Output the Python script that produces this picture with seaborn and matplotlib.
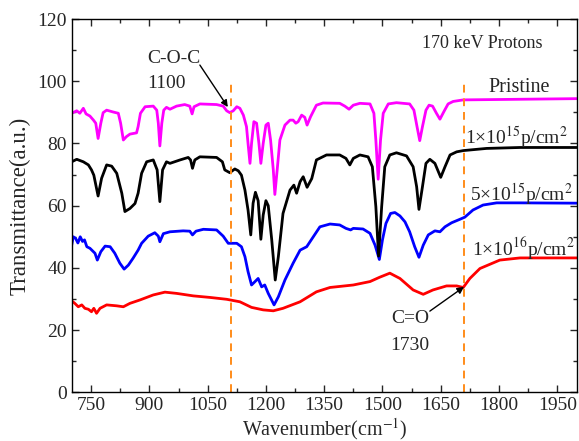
import matplotlib
matplotlib.use("Agg")
import matplotlib.pyplot as plt
from matplotlib.ticker import MultipleLocator
import numpy as np
import pandas as pd
import seaborn as sns

# FTIR transmittance spectra after 170 keV proton irradiation (wavenumber, transmittance)
pristine_wn = [700, 713, 721, 730, 737, 747, 756, 762, 768, 775, 781, 790, 807, 820, 826, 833,
               841, 850, 867, 871, 877, 889, 910, 919, 923, 927, 932, 937, 944, 953, 970, 991,
               1004, 1010, 1015, 1030, 1073, 1090, 1099, 1107, 1116, 1125, 1133, 1142, 1150,
               1154, 1159, 1163, 1169, 1176, 1182, 1187, 1193, 1200, 1206, 1212, 1219, 1223,
               1229, 1236, 1249, 1262, 1270, 1277, 1283, 1292, 1300, 1306, 1315, 1330, 1347,
               1390, 1403, 1414, 1425, 1442, 1468, 1478, 1483, 1489, 1495, 1502, 1515, 1536,
               1570, 1581, 1589, 1596, 1603, 1612, 1620, 1629, 1639, 1648, 1658, 1669, 1682,
               1708, 1854, 2000]
pristine_t = [89.7, 90.5, 89.7, 91.3, 89.5, 88.8, 87.5, 86.5, 81.6, 86.5, 89.9, 90.7, 90.1, 89.7,
              86.5, 81.1, 82.2, 83.0, 83.4, 85.4, 89.7, 91.8, 92.0, 90.7, 86.5, 79.2, 86.5, 90.7,
              91.6, 91.0, 92.0, 92.5, 92.0, 89.5, 91.8, 92.7, 92.5, 92.0, 90.5, 89.9, 90.5, 91.8,
              91.3, 89.1, 85.4, 80.0, 73.6, 80.0, 87.0, 86.5, 80.0, 73.6, 80.0, 85.9, 86.5, 81.1,
              71.5, 63.6, 71.5, 81.1, 85.9, 87.5, 87.5, 86.5, 87.0, 89.1, 88.4, 85.9, 88.6, 92.3,
              93.0, 92.9, 92.0, 91.0, 92.3, 92.9, 92.7, 89.7, 81.1, 68.5, 81.0, 89.7, 92.7, 93.1,
              92.7, 90.7, 85.4, 80.9, 85.4, 90.7, 92.3, 92.0, 89.7, 87.8, 90.2, 92.7, 93.5,
              94.0, 94.2, 94.4]

dose_1e15_wn = [700, 713, 730, 743, 751, 757, 768, 777, 790, 803, 816, 829, 837, 850, 863, 871,
                880, 893, 910, 920, 927, 934, 944, 953, 979, 1000, 1006, 1011, 1017, 1030, 1073,
                1088, 1094, 1107, 1120, 1129, 1137, 1146, 1154, 1161, 1167, 1173, 1180, 1187,
                1193, 1200, 1206, 1215, 1224, 1232, 1244, 1262, 1272, 1279, 1288, 1296, 1306,
                1318, 1330, 1356, 1390, 1406, 1416, 1425, 1442, 1463, 1474, 1483, 1490, 1498,
                1506, 1519, 1536, 1562, 1579, 1588, 1594, 1603, 1612, 1622, 1635, 1650, 1661,
                1674, 1691, 1708, 1768, 1854, 2000]
dose_1e15_t = [74.1, 74.9, 74.1, 73.1, 71.5, 69.8, 63.1, 68.8, 73.1, 72.7, 70.4, 64.0, 58.1, 59.1,
               60.7, 64.0, 70.4, 74.1, 74.7, 71.5, 61.3, 71.5, 74.1, 73.6, 74.7, 75.5, 74.7, 72.0,
               74.7, 75.7, 75.5, 74.1, 71.5, 70.6, 71.8, 71.2, 69.8, 65.0, 58.6, 50.6, 60.8, 64.3,
               61.6, 49.2, 57.0, 61.6, 60.0, 49.0, 36.1, 43.6, 57.5, 65.0, 66.6, 64.0, 67.7, 69.3,
               65.9, 68.7, 74.7, 76.3, 76.3, 75.2, 73.1, 75.2, 76.3, 75.7, 72.5, 59.7, 43.8, 59.7,
               72.5, 76.3, 77.0, 76.0, 72.5, 66.1, 58.8, 66.1, 73.6, 74.9, 73.6, 69.1, 72.5, 76.3,
               77.3, 77.7, 78.4, 78.7, 78.7]

dose_5e15_wn = [700, 704, 710, 716, 722, 728, 733, 739, 747, 760, 766, 775, 786, 799, 811, 824,
                835, 846, 858, 871, 880, 897, 914, 923, 927, 936, 953, 987, 1004, 1011, 1020,
                1039, 1073, 1090, 1103, 1125, 1137, 1146, 1154, 1163, 1172, 1180, 1189, 1197,
                1206, 1221, 1232, 1249, 1270, 1288, 1305, 1322, 1339, 1365, 1390, 1406, 1418,
                1425, 1450, 1468, 1481, 1492, 1500, 1509, 1521, 1532, 1545, 1558, 1570, 1583,
                1594, 1605, 1618, 1635, 1648, 1661, 1678, 1699, 1712, 1733, 1759, 1794, 1854, 2000]
dose_5e15_t = [47.3, 50.0, 49.5, 48.0, 50.0, 48.5, 49.0, 46.8, 46.3, 44.7, 42.5, 45.2, 47.0, 46.8,
               44.7, 41.5, 39.6, 40.9, 43.1, 45.7, 47.9, 50.2, 51.3, 50.2, 48.4, 51.0, 51.6, 51.9,
               51.8, 50.6, 51.8, 52.4, 52.2, 50.2, 47.9, 47.9, 46.8, 43.6, 38.8, 34.5, 35.6, 36.6,
               33.9, 34.5, 31.8, 28.1, 30.7, 36.1, 41.5, 45.7, 46.8, 50.0, 53.2, 54.1, 53.8, 52.7,
               52.2, 52.7, 52.5, 51.1, 47.3, 42.7, 49.0, 54.3, 57.5, 57.8, 56.7, 54.8, 51.6, 46.8,
               43.4, 47.3, 50.6, 51.9, 51.6, 53.2, 54.5, 55.6, 56.3, 58.6, 60.2, 60.9, 60.9, 60.8]

dose_1e16_wn = [700, 708, 717, 726, 734, 743, 751, 757, 764, 773, 790, 816, 833, 850, 876, 910,
                940, 970, 1013, 1056, 1099, 1133, 1163, 1193, 1219, 1244, 1288, 1330, 1365,
                1425, 1468, 1493, 1519, 1545, 1579, 1605, 1630, 1665, 1691, 1708, 1725, 1751,
                1802, 1854, 2000]
dose_1e16_t = [29.4, 28.6, 27.5, 28.1, 27.0, 26.7, 25.9, 27.0, 25.4, 27.0, 28.1, 27.8, 27.5, 28.6,
               29.7, 31.3, 32.2, 31.8, 31.0, 30.5, 29.9, 29.1, 27.3, 26.5, 26.2, 27.0, 29.1, 32.3,
               33.7, 34.5, 35.6, 37.0, 38.3, 36.6, 32.9, 31.5, 32.9, 34.2, 34.2, 33.7, 36.6, 39.8,
               42.5, 43.2, 43.2]

series_names = ["Pristine", "1e15", "5e15", "1e16"]
series_colors = ["#FF00FF", "#000000", "#0000FF", "#FF0000"]
x_ticks = [750, 900, 1050, 1200, 1350, 1500, 1650, 1800, 1950]
y_ticks = [0, 20, 40, 60, 80, 100, 120]
band_positions = [1110, 1711]

frames = []
for name, wn, t in zip(series_names,
                       [pristine_wn, dose_1e15_wn, dose_5e15_wn, dose_1e16_wn],
                       [pristine_t, dose_1e15_t, dose_5e15_t, dose_1e16_t]):
    frames.append(pd.DataFrame({"wavenumber": wn, "T": t, "sample": name}))
spectra = pd.concat(frames, ignore_index=True)

sns.set_style("ticks")
plt.rcParams["font.family"] = ["Liberation Serif", "DejaVu Serif"]
plt.rcParams["mathtext.fontset"] = "stix"

fig = plt.figure(figsize=(5.79, 4.41), dpi=100)
ax = fig.add_axes([0.1238, 0.1104, 0.8722, 0.8465])

# draw from the most irradiated up so the pristine trace sits on top
for name, color in list(zip(series_names, series_colors))[::-1]:
    sns.lineplot(data=spectra[spectra["sample"] == name], x="wavenumber", y="T",
                 color=color, lw=2.0, sort=False, estimator=None, ax=ax, legend=False,
                 solid_joinstyle="round", solid_capstyle="round")

for xb in band_positions:
    ax.plot([xb, xb], [0, 99.5], color="#FF8C1A", lw=1.4, linestyle=(0, (4, 3)))

ax.set_xlim(700, 2000)
ax.set_ylim(0, 120)
ax.set_xticks(x_ticks)
ax.set_yticks(y_ticks)
ax.xaxis.set_minor_locator(MultipleLocator(75))
ax.yaxis.set_minor_locator(MultipleLocator(10))
ax.tick_params(which="both", direction="in", top=True, right=True, labelsize=14, width=1.0)
ax.tick_params(which="major", length=5)
ax.tick_params(which="minor", length=3)
for sp in ax.spines.values():
    sp.set_linewidth(1.0)
    sp.set_color("black")

ax.set_xlabel("Wavenumber(cm$^{-1}$)", fontsize=14.5, labelpad=1)
ax.set_ylabel("Transmittance(a.u.)", fontsize=16.5, labelpad=5)

ax.text(1601, 110.6, "170 keV Protons", fontsize=13, va="baseline", ha="left")
ax.text(1774, 96.4, "Pristine", fontsize=14.5, va="baseline", ha="left")
ax.text(1712, 79.6, "1×10$^{15}$p/cm$^{2}$", fontsize=14, va="baseline", ha="left")
ax.text(1725, 61.4, "5×10$^{15}$p/cm$^{2}$", fontsize=14, va="baseline", ha="left")
ax.text(1730, 44.0, "1×10$^{16}$p/cm$^{2}$", fontsize=14, va="baseline", ha="left")

ax.text(894, 107.4, "C-O-C", fontsize=14, va="center", ha="left")
ax.text(894, 99.4, "1100", fontsize=14, va="center", ha="left")
ax.annotate("", xy=(1102, 91.7), xytext=(1030, 105.2),
            arrowprops=dict(arrowstyle="-|>", color="black", lw=1.0, mutation_scale=10,
                            shrinkA=0, shrinkB=0))

ax.text(1571, 23.6, "C=O", fontsize=14, va="center", ha="center")
ax.text(1571, 15.2, "1730", fontsize=14, va="center", ha="center")
ax.annotate("", xy=(1710, 33.9), xytext=(1622, 26.1),
            arrowprops=dict(arrowstyle="-|>", color="black", lw=1.0, mutation_scale=10,
                            shrinkA=0, shrinkB=0))

fig.savefig("out.png", dpi=100)
